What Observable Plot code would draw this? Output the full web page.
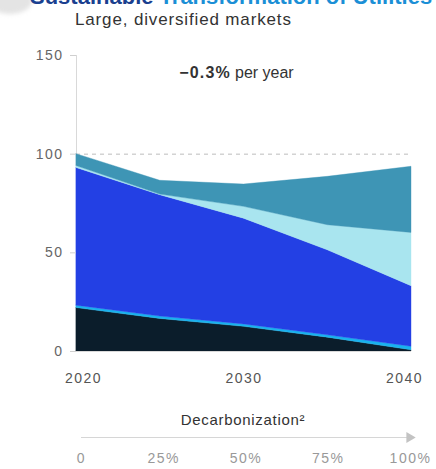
<!DOCTYPE html>
<html>
<head>
<meta charset="utf-8">
<script src="https://cdn.jsdelivr.net/npm/d3@7"></script>
<script src="https://cdn.jsdelivr.net/npm/@observablehq/plot@0.6"></script>
<style>
  html, body { margin: 0; padding: 0; background: #fff; }
  body { width: 436px; height: 469px; overflow: hidden; position: relative; font-family: "Liberation Sans", Arial, sans-serif; }
  #blob { position: absolute; left: -12px; top: -12px; width: 44px; height: 26px; background: #e4e4e4; border-radius: 50%; filter: blur(2px); }
  #title { position: absolute; left: 30px; top: -14px; font-size: 22px; line-height: 22px; font-weight: bold; white-space: nowrap; color: #1b8fd6; }
  #title .first { color: #1a3f8f; }
  #subtitle { position: absolute; left: 75px; top: 11px; font-size: 17px; line-height: 17px; letter-spacing: 0.85px; color: #333; white-space: nowrap; }
  #main { position: absolute; left: 0; top: 40px; }
  #decarb { position: absolute; left: 0; top: 400px; }
  svg { overflow: visible; }
  [aria-label="x-axis tick label"] text, [aria-label="y-axis tick label"] text { letter-spacing: 1.5px; }
  .ann-bold text { letter-spacing: 1.2px; }
  .decarb-title text { letter-spacing: 0.7px; }
</style>
</head>
<body>
<div id="blob"></div>
<div id="title"><span class="first">Sustainable</span> Transformation of Utilities</div>
<div id="subtitle">Large, diversified markets</div>
<div id="main"></div>
<div id="decarb"></div>
<script>
// ---- data ----
const years = [2020, 2025, 2030, 2035, 2040];
const seriesNames = ["Legacy base", "Transition link", "Core business", "Emerging business", "New growth"];
const legacyBase       = [22, 16.5, 12.5, 7, 0.6];
const transitionLink   = [1.2, 1.2, 1.2, 1.2, 1.8];
const coreBusiness     = [69.8, 61.5, 53.6, 43.1, 30.7];
const emergingBusiness = [1, 0.3, 6, 12.7, 27];
const newGrowth        = [6, 7, 11.3, 24.5, 33.5];
const seriesColors = ["#0b1d2b", "#19b2ee", "#2340e4", "#a9e5ef", "#3e95b5"];
const yTicks = [0, 50, 100, 150];
const xTicks = [2020, 2030, 2040];
const referenceLevel = [100];
const annotationValue = "\u22120.3%";
const annotationUnit = "per year";
const decarbTitle = "Decarbonization\u00b2";
const decarbTicks = [0, 25, 50, 75, 100];

const seriesValues = [legacyBase, transitionLink, coreBusiness, emergingBusiness, newGrowth];
const data = seriesNames.flatMap((s, i) => years.map((year, j) => ({series: s, year, value: seriesValues[i][j]})));

const font = {fontFamily: "Liberation Sans, Arial, sans-serif", background: "transparent", overflow: "visible"};

const main = Plot.plot({
  width: 436, height: 360,
  marginTop: 15, marginBottom: 49, marginLeft: 76, marginRight: 25,
  style: {...font, fontSize: "14px"},
  x: {domain: [2020, 2040], label: null},
  y: {domain: [0, 150], label: null},
  color: {domain: seriesNames, range: seriesColors},
  marks: [
    Plot.ruleX([2020], {y1: 0, y2: 150, stroke: "#d9d9d9", strokeWidth: 1}),
    Plot.ruleY(referenceLevel, {stroke: "#bdbdbd", strokeDasharray: "4,4", strokeWidth: 1}),
    Plot.areaY(data, {x: "year", y: "value", fill: "series", stroke: "series", strokeWidth: 0.4}),
    Plot.ruleY([0], {stroke: "#d9d9d9", strokeWidth: 1}),
    Plot.axisY(yTicks, {tickSize: 6, tickPadding: 7, stroke: "#cfcfcf", fill: "#666", label: null, tickFormat: d => String(d)}),
    Plot.axisX([xTicks[0]], {tickSize: 0, tickPadding: 22, dx: 7, fill: "#555", label: null, tickFormat: d => String(d)}),
    Plot.axisX([xTicks[1]], {tickSize: 0, tickPadding: 22, dx: 0, fill: "#555", label: null, tickFormat: d => String(d)}),
    Plot.axisX([xTicks[2]], {tickSize: 0, tickPadding: 22, dx: -7, fill: "#555", label: null, tickFormat: d => String(d)}),
    Plot.text([annotationValue], {text: d => d, frameAnchor: "top", dy: 17, dx: -13, textAnchor: "end", lineAnchor: "middle", fontWeight: "bold", fontSize: 16, fill: "#333", className: "ann-bold"}),
    Plot.text([annotationUnit], {text: d => d, frameAnchor: "top", dy: 17, dx: -9, textAnchor: "start", lineAnchor: "middle", fontSize: 16, fill: "#333"})
  ]
});
document.getElementById("main").appendChild(main);

const decarb = Plot.plot({
  width: 436, height: 69,
  marginTop: 37, marginBottom: 31, marginLeft: 81, marginRight: 26,
  style: {...font, fontSize: "14px"},
  x: {domain: [0, 100], label: null},
  marks: [
    Plot.frame({anchor: "top", stroke: "#d6d6d6"}),
    Plot.dot([decarbTicks[decarbTicks.length - 1]], {x: d => d, frameAnchor: "top", symbol: "triangle", r: 4, fill: "#c3c3c3", stroke: null, rotate: 90, dx: -1}),
    Plot.text([decarbTitle], {text: d => d, frameAnchor: "top", dy: -17, dx: -3, lineAnchor: "middle", fontSize: 15, fill: "#333", className: "decarb-title"}),
    Plot.axisX(decarbTicks, {tickSize: 0, tickPadding: 15, fill: "#999", label: null, tickFormat: d => d === 0 ? "0" : d + "%"})
  ]
});
document.getElementById("decarb").appendChild(decarb);
</script>
</body>
</html>
